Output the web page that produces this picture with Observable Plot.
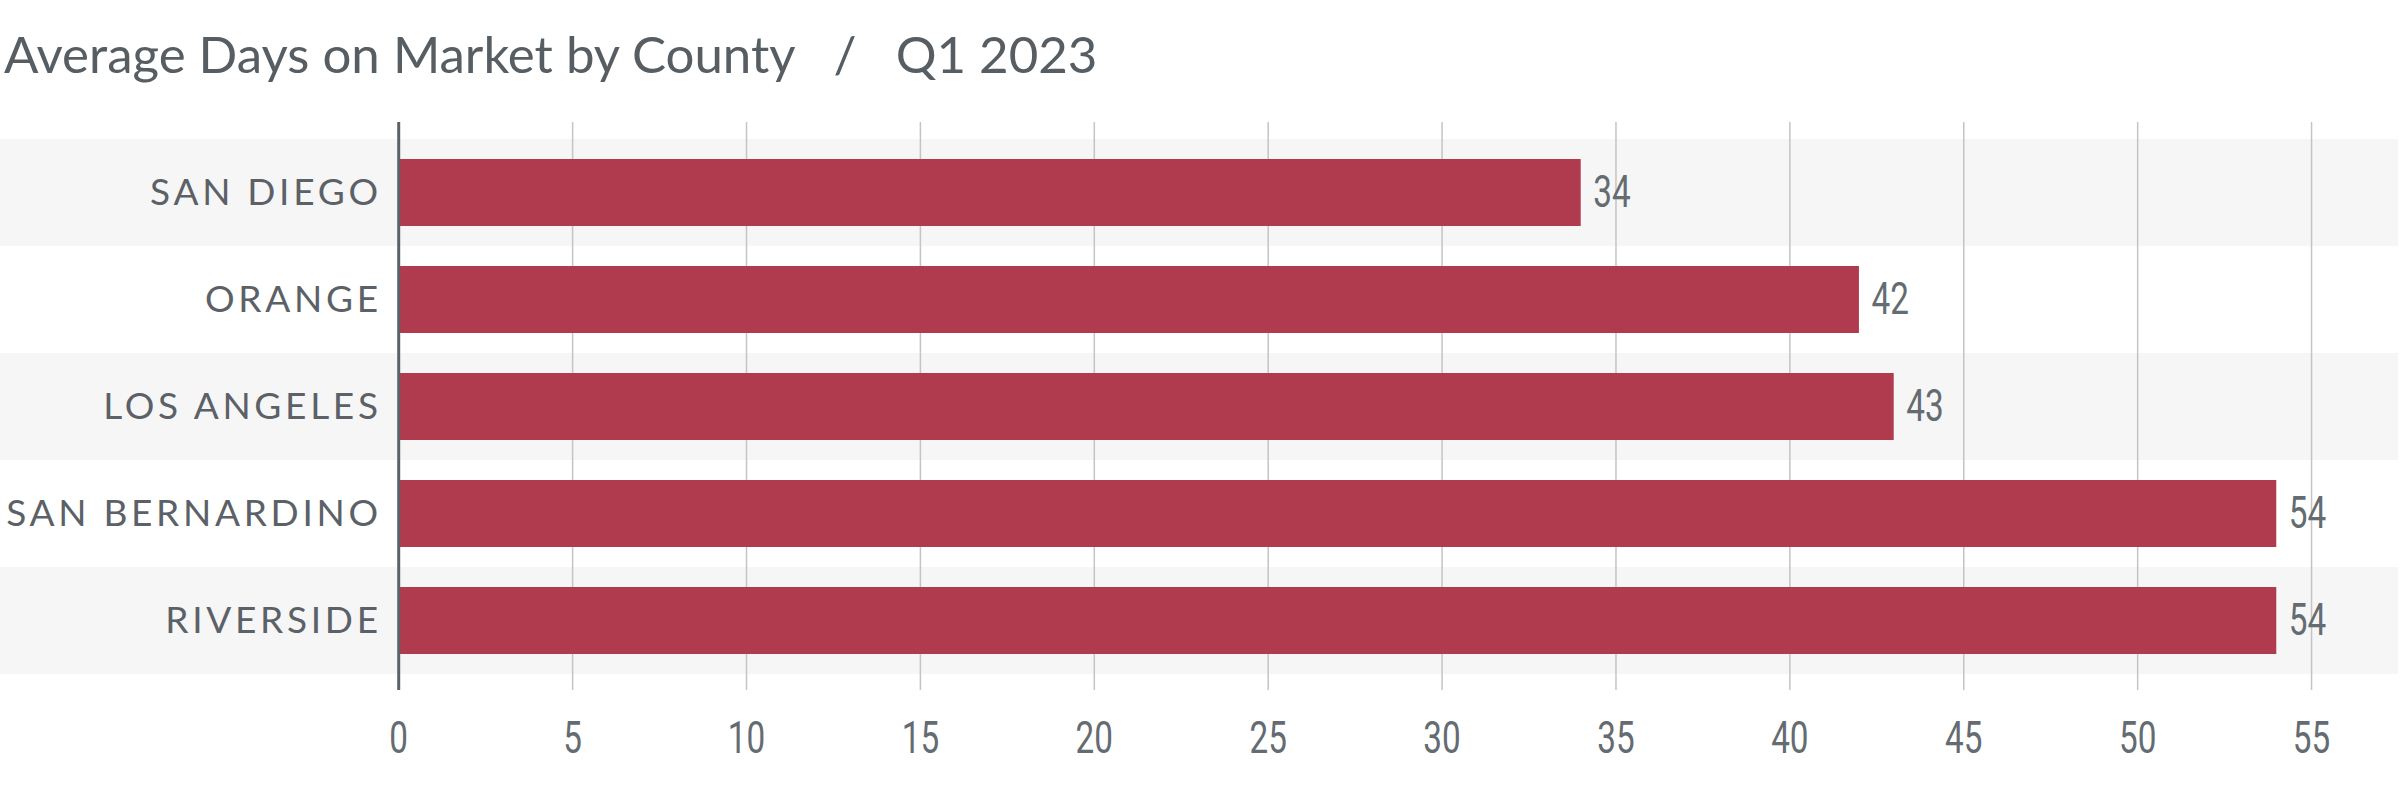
<!DOCTYPE html>
<html>
<head>
<meta charset="utf-8">
<script src="https://cdn.jsdelivr.net/npm/d3@7"></script>
<script src="https://cdn.jsdelivr.net/npm/@observablehq/plot@0.6"></script>
<style>
  html, body { margin: 0; padding: 0; background: #ffffff; }
  #title {
    height: 110px; box-sizing: border-box; padding-top: 29px; padding-left: 4px;
    font-family: Lato, "Open Sans", sans-serif; font-size: 51px; line-height: 50px;
    color: #575e63; white-space: pre;
  }
  #chart svg { display: block; }
</style>
</head>
<body>
<div id="title">Average Days on Market by County   /   Q1 2023</div>
<div id="chart"></div>
<script>
const counties = ["SAN DIEGO", "ORANGE", "LOS ANGELES", "SAN BERNARDINO", "RIVERSIDE"];
const days = [34, 42, 43, 54, 54];
const xTicks = [0, 5, 10, 15, 20, 25, 30, 35, 40, 45, 50, 55];
const xDomain = [-11.45, 57.5];

const rows = counties.map((c, i) => ({county: c, days: days[i], shaded: i % 2 === 0}));

const condensed = "Roboto, 'Liberation Sans', sans-serif";
const textColor = "#5b6167";

const chart = Plot.plot({
  width: 2400,
  height: 687,
  marginTop: 12,
  marginBottom: 107,
  marginLeft: 0,
  marginRight: 2,
  x: {domain: xDomain, axis: null},
  y: {domain: counties, axis: null, paddingInner: 0, paddingOuter: 0.142},
  marks: [
    Plot.barX(rows.filter(d => d.shaded), {y: "county", x1: () => xDomain[0], x2: () => xDomain[1], fill: "#f6f6f6"}),
    Plot.ruleX(xTicks.filter(t => t > 0), {x: d => d, stroke: "#c4c4c4", strokeWidth: 1.5}),
    Plot.barX(rows, {y: "county", x1: () => 0, x2: "days", fill: "#b03a4e", insetTop: 20, insetBottom: 20}),
    Plot.ruleX([0], {x: d => d, stroke: textColor, strokeWidth: 3}),
    Plot.text(rows, {x: "days", y: "county", text: d => String(d.days), dx: 12, textAnchor: "start",
      lineAnchor: "middle", fontSize: 45, fontFamily: condensed, fill: "#646b71"}),
    Plot.text(rows, {x: () => 0, y: "county", text: "county", dx: -17, textAnchor: "end",
      lineAnchor: "middle", fontSize: 37, fontFamily: "Lato, 'Open Sans', sans-serif", fill: textColor}),
    Plot.text(xTicks, {x: d => d, frameAnchor: "bottom", dy: 48, lineAnchor: "middle",
      fontSize: 45, fontFamily: condensed, fill: "#646b71"})
  ]
});

const svg = d3.select(chart);
svg.selectAll("g").filter(function() {
  return (this.getAttribute("font-family") || "").startsWith("Lato");
}).attr("letter-spacing", "0.1em");

// narrow the numeric labels to mimic a condensed face
svg.selectAll("g").filter(function() {
  return (this.getAttribute("font-family") || "").startsWith("Roboto");
}).selectAll("text").each(function() {
  const t = this.getAttribute("transform") || "";
  this.setAttribute("transform", `${t} scale(0.74,1)`);
});

document.getElementById("chart").appendChild(chart);
</script>
</body>
</html>
